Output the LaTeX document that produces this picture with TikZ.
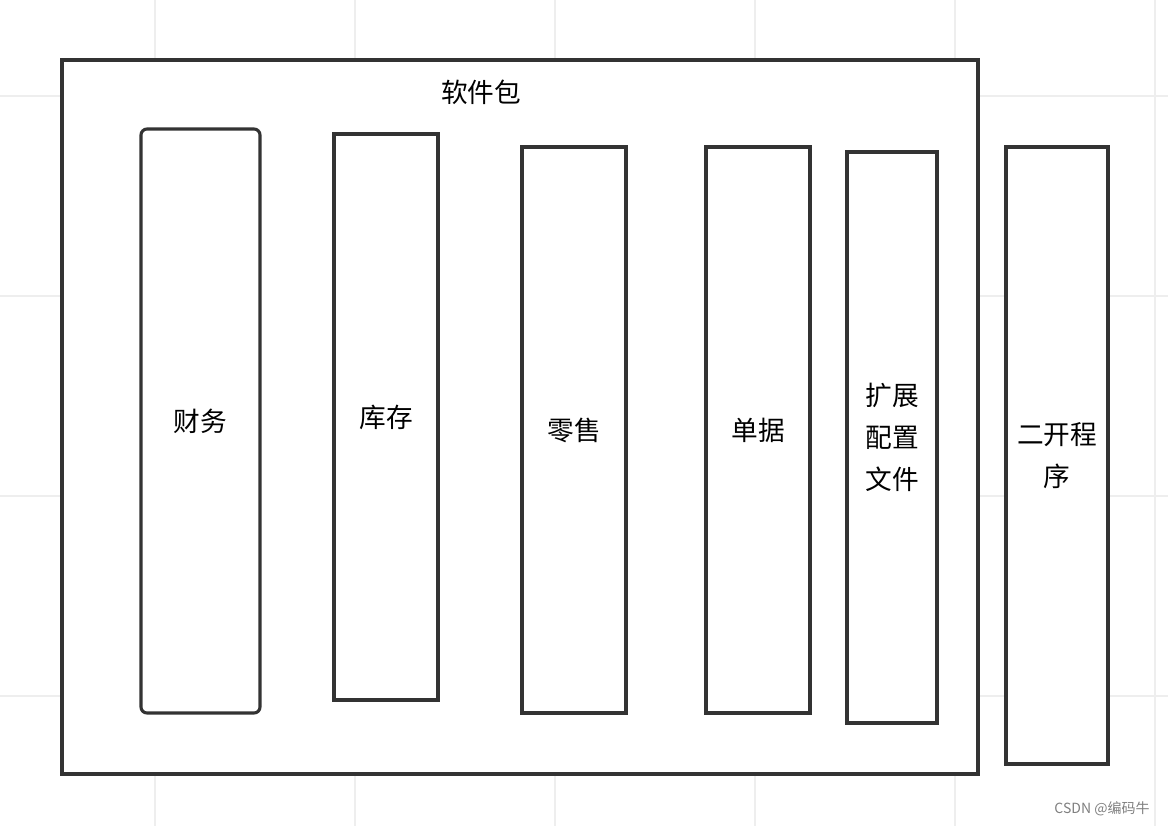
\documentclass[tikz,border=0pt]{standalone}
\usepackage{fontspec}
\setmainfont{Noto Sans CJK SC}
\usepackage{xcolor}
\definecolor{ink}{RGB}{51,51,51}
\definecolor{gridc}{RGB}{238,238,238}

\begin{document}
\begin{tikzpicture}[x=0.75pt,y=-0.75pt,font=\fontsize{20}{31.5}\selectfont,
  col/.style={draw=ink,fill=white,line width=2.3pt,align=center,inner sep=0pt,minimum width=78pt,minimum height=424.5pt},
  frame/.style={draw=ink,fill=white,line width=2.3pt,inner sep=0pt,minimum width=687pt,minimum height=535.5pt}]
  \useasboundingbox[fill=white] (0,0) rectangle (1168,826);
  % background grid
  \foreach \gx in {155,355,555,755,955,1155}
    \draw[gridc,line width=0.8pt] (\gx,0) -- (\gx,826);
  \foreach \gy in {96,296,496,696}
    \draw[gridc,line width=0.8pt] (0,\gy) -- (1168,\gy);
  \node[frame] (pkg) at (520,417) {};
  \node (pkgtitle) at (481,92) {软件包};
  \node[col,rounded corners=4.5pt,minimum width=89.25pt,minimum height=438pt] (fin) at (200.5,421) {财务};
  \node[col] (stock) at (386,417) {库存};
  \node[col] (retail) at (574,430) {零售};
  \node[col] (bill) at (758,430) {单据};
  \node[col,minimum width=67.5pt,minimum height=428.25pt] (cfg) at (892,437.5) {扩展\\配置\\文件};
  \node[col,minimum width=76.5pt,minimum height=462.75pt] (dev) at (1057,455.5) {二开程\\序};
  \node[text=gray,font=\fontsize{10.5}{12}\selectfont] (csdn) at (1102,809) {CSDN @编码牛};
\end{tikzpicture}
\end{document}
